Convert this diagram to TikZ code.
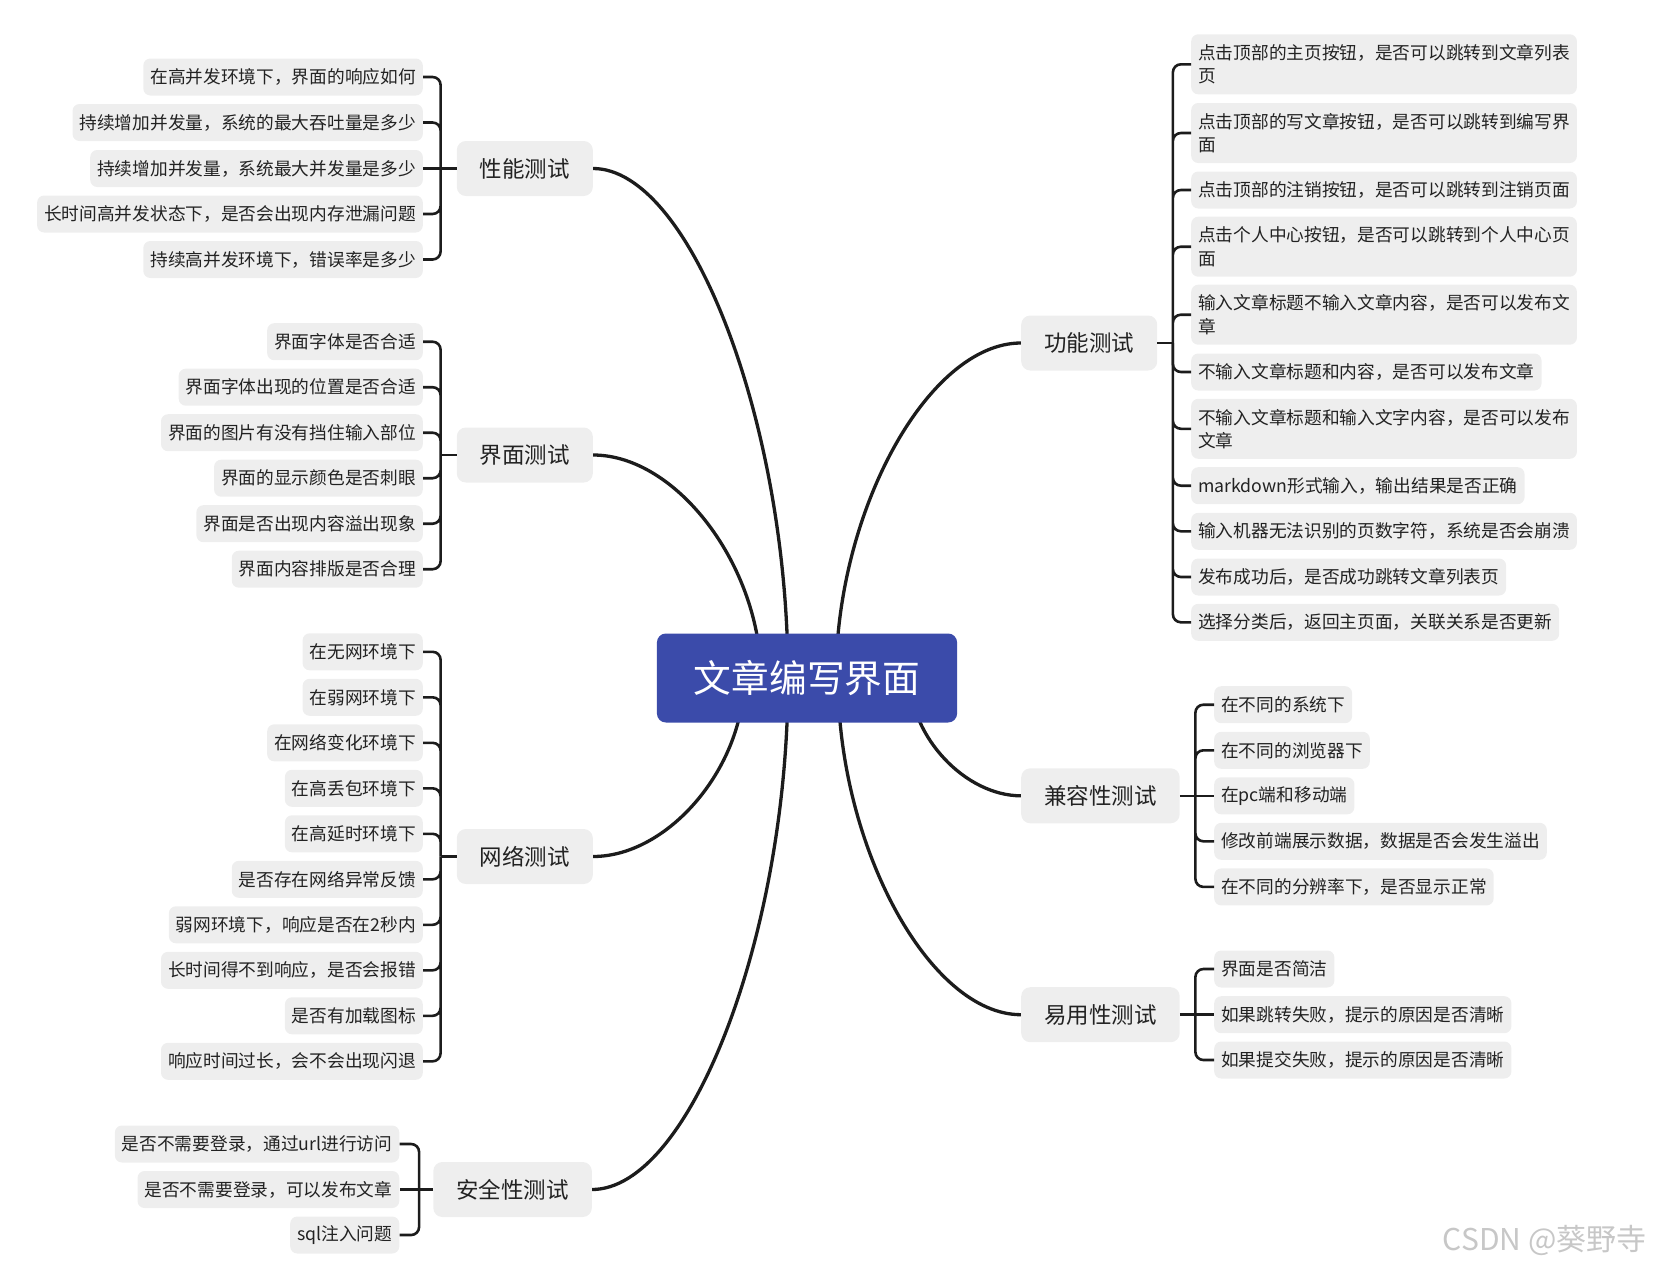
\documentclass[tikz,border=0pt]{standalone}
\usepackage{fontspec}
\setmainfont{Noto Sans CJK SC}
\usetikzlibrary{calc}
\pgfdeclarelayer{bg}
\pgfsetlayers{bg,main}
\definecolor{rootblue}{HTML}{3B4BAA}
\definecolor{boxgray}{HTML}{EEEEEE}
\definecolor{inkline}{HTML}{1C1C1C}
\definecolor{ink}{HTML}{222222}
\tikzset{
  root/.style={fill=rootblue, text=white, rounded corners=9pt, inner xsep=37pt, minimum height=89pt, font=\fontsize{37.7}{45}\selectfont},
  branch/.style={fill=boxgray, text=ink, rounded corners=9pt, inner xsep=23pt, minimum height=55pt, font=\fontsize{22.5}{27}\selectfont},
  leaf/.style={fill=boxgray, text=ink, rounded corners=7pt, inner xsep=7pt, inner ysep=3pt, minimum height=37pt, align=left, font=\fontsize{17.7}{23.3}\selectfont},
  tall/.style={minimum height=60pt},
  limb/.style={draw=inkline, line width=3.3pt, to path={.. controls ($(\tikztostart)!0.5!(\tikztostart|-\tikztotarget)$) and ($(\tikztotarget)!0.5!(\tikztostart|-\tikztotarget)$) .. (\tikztotarget)}},
  twig/.style={draw=inkline, line width=2.6pt, rounded corners=8pt},
}
\begin{document}
\begin{tikzpicture}[x=1pt,y=-1pt]
\useasboundingbox (0,0) rectangle (1655,1269);
\node[root] (wz) at (807,678) {文章编写界面};
\node[branch, anchor=east] (xn) at (593,168.5) {性能测试};
\node[branch, anchor=east] (jm) at (593,455) {界面测试};
\node[branch, anchor=east] (wl) at (593,856.5) {网络测试};
\node[branch, anchor=east] (aq) at (592,1189.5) {安全性测试};
\node[branch, anchor=west] (gn) at (1021,343) {功能测试};
\node[branch, anchor=west] (jr) at (1021,795.8) {兼容性测试};
\node[branch, anchor=west] (yy) at (1021,1014.7) {易用性测试};
\coordinate (oxn) at (788,678);
\coordinate (ojm) at (761,678);
\coordinate (owl) at (744,678);
\coordinate (oaq) at (788,678);
\coordinate (ogn) at (836,678);
\coordinate (ojr) at (910,678);
\coordinate (oyy) at (838,678);
\begin{pgfonlayer}{bg}
\draw[limb] (oxn) to (xn.east);
\draw[limb] (ojm) to (jm.east);
\draw[limb] (owl) to (wl.east);
\draw[limb] (oaq) to (aq.east);
\draw[limb] (ogn) to (gn.west);
\draw[limb] (ojr) to (jr.west);
\draw[limb] (oyy) to (yy.west);
\end{pgfonlayer}
\node[leaf, anchor=east] (xn1) at (423,77) {在高并发环境下，界面的响应如何};
\node[leaf, anchor=east] (xn2) at (423,122.5) {持续增加并发量，系统的最大吞吐量是多少};
\node[leaf, anchor=east] (xn3) at (423,168.5) {持续增加并发量，系统最大并发量是多少};
\node[leaf, anchor=east] (xn4) at (423,214) {长时间高并发状态下，是否会出现内存泄漏问题};
\node[leaf, anchor=east] (xn5) at (423,259.5) {持续高并发环境下，错误率是多少};
\node[leaf, anchor=east] (jm1) at (423,341.7) {界面字体是否合适};
\node[leaf, anchor=east] (jm2) at (423,387.2) {界面字体出现的位置是否合适};
\node[leaf, anchor=east] (jm3) at (423,432.7) {界面的图片有没有挡住输入部位};
\node[leaf, anchor=east] (jm4) at (423,478.2) {界面的显示颜色是否刺眼};
\node[leaf, anchor=east] (jm5) at (423,523.7) {界面是否出现内容溢出现象};
\node[leaf, anchor=east] (jm6) at (423,569.2) {界面内容排版是否合理};
\node[leaf, anchor=east] (wl1) at (423,651.8) {在无网环境下};
\node[leaf, anchor=east] (wl2) at (423,697.3) {在弱网环境下};
\node[leaf, anchor=east] (wl3) at (423,742.8) {在网络变化环境下};
\node[leaf, anchor=east] (wl4) at (423,788.3) {在高丢包环境下};
\node[leaf, anchor=east] (wl5) at (423,833.8) {在高延时环境下};
\node[leaf, anchor=east] (wl6) at (423,879.3) {是否存在网络异常反馈};
\node[leaf, anchor=east] (wl7) at (423,924.8) {弱网环境下，响应是否在2秒内};
\node[leaf, anchor=east] (wl8) at (423,970.3) {长时间得不到响应，是否会报错};
\node[leaf, anchor=east] (wl9) at (423,1015.8) {是否有加载图标};
\node[leaf, anchor=east] (wl10) at (423,1061.3) {响应时间过长，会不会出现闪退};
\node[leaf, anchor=east] (aq1) at (399.5,1144) {是否不需要登录，通过url进行访问};
\node[leaf, anchor=east] (aq2) at (399.5,1189.5) {是否不需要登录，可以发布文章};
\node[leaf, anchor=east] (aq3) at (399.5,1235) {sql注入问题};
\node[leaf, tall, anchor=west] (gn1) at (1191,64.3) {点击顶部的主页按钮，是否可以跳转到文章列表\\页};
\node[leaf, tall, anchor=west] (gn2) at (1191,133) {点击顶部的写文章按钮，是否可以跳转到编写界\\面};
\node[leaf, anchor=west] (gn3) at (1191,190) {点击顶部的注销按钮，是否可以跳转到注销页面};
\node[leaf, tall, anchor=west] (gn4) at (1191,246.7) {点击个人中心按钮，是否可以跳转到个人中心页\\面};
\node[leaf, tall, anchor=west] (gn5) at (1191,314.7) {输入文章标题不输入文章内容，是否可以发布文\\章};
\node[leaf, anchor=west] (gn6) at (1191,372) {不输入文章标题和内容，是否可以发布文章};
\node[leaf, tall, anchor=west] (gn7) at (1191,428.8) {不输入文章标题和输入文字内容，是否可以发布\\文章};
\node[leaf, anchor=west] (gn8) at (1191,485.7) {markdown形式输入，输出结果是否正确};
\node[leaf, anchor=west] (gn9) at (1191,531.3) {输入机器无法识别的页数字符，系统是否会崩溃};
\node[leaf, anchor=west] (gn10) at (1191,577) {发布成功后，是否成功跳转文章列表页};
\node[leaf, anchor=west] (gn11) at (1191,622.3) {选择分类后，返回主页面，关联关系是否更新};
\node[leaf, anchor=west] (jr1) at (1214,704.7) {在不同的系统下};
\node[leaf, anchor=west] (jr2) at (1214,750.3) {在不同的浏览器下};
\node[leaf, anchor=west] (jr3) at (1214,795.8) {在pc端和移动端};
\node[leaf, anchor=west] (jr4) at (1214,841.3) {修改前端展示数据，数据是否会发生溢出};
\node[leaf, anchor=west] (jr5) at (1214,886.9) {在不同的分辨率下，是否显示正常};
\node[leaf, anchor=west] (yy1) at (1214,969) {界面是否简洁};
\node[leaf, anchor=west] (yy2) at (1214,1014.7) {如果跳转失败，提示的原因是否清晰};
\node[leaf, anchor=west] (yy3) at (1214,1060) {如果提交失败，提示的原因是否清晰};
\coordinate (xnj) at ([xshift=-16pt]xn.west);
\coordinate (jmj) at ([xshift=-16pt]jm.west);
\coordinate (wlj) at ([xshift=-16pt]wl.west);
\coordinate (aqj) at ([xshift=-14pt]aq.west);
\coordinate (gnj) at ([xshift=15.5pt]gn.east);
\coordinate (jrj) at ([xshift=15.5pt]jr.east);
\coordinate (yyj) at ([xshift=15.5pt]yy.east);
\draw[twig] (xn.west) -- (xn3.east);
\draw[twig] (xnj) |- (xn1.east) (xnj) |- (xn2.east) (xnj) |- (xn4.east) (xnj) |- (xn5.east);
\draw[twig] (jm.west) -- (jmj);
\draw[twig] (jmj) |- (jm1.east) (jmj) |- (jm2.east) (jmj) |- (jm3.east) (jmj) |- (jm4.east) (jmj) |- (jm5.east) (jmj) |- (jm6.east);
\draw[twig] (wl.west) -- (wlj);
\draw[twig] (wlj) |- (wl1.east) (wlj) |- (wl2.east) (wlj) |- (wl3.east) (wlj) |- (wl4.east) (wlj) |- (wl5.east);
\draw[twig] (wlj) |- (wl6.east) (wlj) |- (wl7.east) (wlj) |- (wl8.east) (wlj) |- (wl9.east) (wlj) |- (wl10.east);
\draw[twig] (aq.west) -- (aq2.east);
\draw[twig] (aqj) |- (aq1.east) (aqj) |- (aq3.east);
\draw[twig] (gn.east) -- (gnj);
\draw[twig] (gnj) |- (gn1.west) (gnj) |- (gn2.west) (gnj) |- (gn3.west) (gnj) |- (gn4.west) (gnj) |- (gn5.west) (gnj) |- (gn6.west);
\draw[twig] (gnj) |- (gn7.west) (gnj) |- (gn8.west) (gnj) |- (gn9.west) (gnj) |- (gn10.west) (gnj) |- (gn11.west);
\draw[twig] (jr.east) -- (jr3.west);
\draw[twig] (jrj) |- (jr1.west) (jrj) |- (jr2.west) (jrj) |- (jr4.west) (jrj) |- (jr5.west);
\draw[twig] (yy.east) -- (yy2.west);
\draw[twig] (yyj) |- (yy1.west) (yyj) |- (yy3.west);
\node[anchor=east, text=black!22, font=\fontsize{30}{34}\selectfont] (wm) at (1650,1240) {CSDN @葵野寺};
\end{tikzpicture}
\end{document}
